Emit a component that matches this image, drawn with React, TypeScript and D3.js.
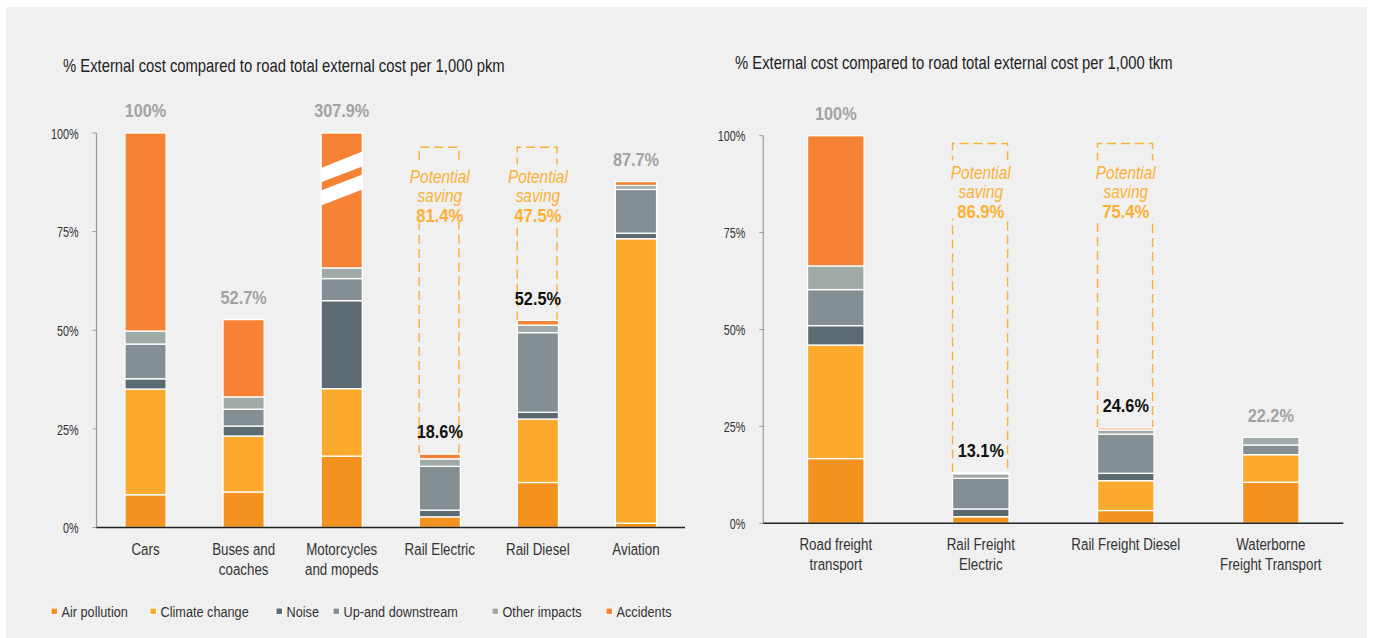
import React from 'react';
import * as d3 from 'd3';

// ---------- data ----------
const SERIES = ['Air pollution', 'Climate change', 'Noise', 'Up-and downstream', 'Other impacts', 'Accidents'];
const SERIES_COLORS = ['#f4921f', '#fbaa2d', '#5c6b71', '#848f93', '#a0aaa8', '#f58235'];

const PKM_CATEGORIES = ['Cars', 'Buses and\ncoaches', 'Motorcycles\nand mopeds', 'Rail Electric', 'Rail Diesel', 'Aviation'];
const PKM_AIR = [8.3, 9.0, 18.1, 2.7, 11.4, 1.1];
const PKM_CLIMATE = [26.8, 14.2, 17.1, 0, 16.1, 72.1];
const PKM_NOISE = [2.6, 2.5, 22.3, 1.7, 1.7, 1.4];
const PKM_UPDOWN = [8.8, 4.3, 5.6, 11.1, 20.2, 11.1];
const PKM_OTHER = [3.3, 3.1, 2.7, 1.9, 1.9, 1.0];
const PKM_ACCIDENTS = [50.2, 19.6, 242.1, 1.2, 1.2, 1.0];
const PKM_TOTALS = [100, 52.7, 307.9, 18.6, 52.5, 87.7];
const PKM_SAVING = [null, null, null, 81.4, 47.5, null];

const TKM_CATEGORIES = ['Road freight\ntransport', 'Rail Freight\nElectric', 'Rail Freight Diesel', 'Waterborne\nFreight Transport'];
const TKM_AIR = [16.7, 1.7, 3.3, 10.6];
const TKM_CLIMATE = [29.3, 0, 7.7, 7.1];
const TKM_NOISE = [5.0, 2.0, 1.9, 0];
const TKM_UPDOWN = [9.3, 7.9, 10.1, 2.5];
const TKM_OTHER = [6.1, 1.2, 1.1, 2.0];
const TKM_ACCIDENTS = [33.6, 0.3, 0.5, 0];
const TKM_TOTALS = [100, 13.1, 24.6, 22.2];
const TKM_SAVING = [null, 86.9, 75.4, null];

const Y_TICKS = [0, 25, 50, 75, 100];

const FONT = "'Liberation Sans', Arial, sans-serif";
const YELLOW = '#fbb034';
const BG = '#f0f0f0';
const NARROW = 0.82;

type NTextProps = {
  x: number; y: number; size: number; fill: string;
  anchor?: 'start' | 'middle' | 'end';
  weight?: string; italic?: boolean; sx?: number;
  lines: string[]; lineHeight?: number;
};

// Condensed text: Liberation Sans squeezed horizontally, like Arial Narrow
function NText({ x, y, size, fill, anchor = 'start', weight = 'normal', italic = false, sx = NARROW, lines, lineHeight = 20 }: NTextProps) {
  return (
    <text transform={`translate(${x},${y}) scale(${sx},1)`} textAnchor={anchor} dominantBaseline="central"
      fontSize={size} fontWeight={weight} fontStyle={italic ? 'italic' : 'normal'} fill={fill} fontFamily={FONT}>
      {lines.map((l, j) => (
        <tspan key={j} x={0} dy={j === 0 ? 0 : lineHeight}>{l}</tspan>
      ))}
    </text>
  );
}

type ChartProps = {
  title: string;
  categories: string[];
  values: number[][];
  totals: number[];
  saving: (number | null)[];
  x0: number; x1: number; yTop: number; yBottom: number;
  titleX: number; titleY: number;
  padding: number;
  boxTopValue: number;
  brokenMax?: boolean;
};

function fmt(v: number) {
  return Number.isInteger(v) ? `${v}%` : `${v.toFixed(1)}%`;
}

function Chart(p: ChartProps) {
  const x = d3.scaleBand<string>().domain(p.categories).range([p.x0, p.x1]).paddingInner(p.padding).paddingOuter(p.padding / 2);
  const y = d3.scaleLinear().domain([0, 100]).range([p.yBottom, p.yTop]).clamp(true);
  const rows = p.categories.map((c, i) => {
    const r: any = { cat: c };
    SERIES.forEach((s, k) => (r[s] = p.values[k][i]));
    return r;
  });
  const stacked = d3.stack<any>().keys(SERIES)(rows);
  const bw = x.bandwidth();

  return (
    <g>
      <NText x={p.titleX} y={p.titleY} size={18.5} sx={0.8} fill="#222" lines={[p.title]} />
      {/* y axis */}
      <line x1={p.x0} x2={p.x0} y1={y(100)} y2={y(0)} stroke="#9a9a9a" strokeWidth={1.2} />
      {Y_TICKS.map(t => (
        <g key={t}>
          <line x1={p.x0 - 4} x2={p.x0} y1={y(t)} y2={y(t)} stroke="#9a9a9a" strokeWidth={1} />
          <NText x={p.x0 - 18} y={y(t)} anchor="end" size={15} sx={0.72} fill="#333" lines={[`${t}%`]} />
        </g>
      ))}
      {/* dashed saving boxes */}
      {p.categories.map((c, i) => {
        const s = p.saving[i];
        if (s == null) return null;
        const bx = x(c)!;
        const top = y(p.boxTopValue);
        const bot = y(p.totals[i]);
        const cx = bx + bw / 2;
        return (
          <g key={'box' + i}>
            <path d={`M${bx},${bot} V${top} H${bx + bw - 1.5} V${bot}`} fill="none" stroke={YELLOW} strokeWidth={1.4} strokeDasharray="9 5" />
            <rect x={cx - 34} y={top + 17} width={68} height={58} fill={BG} />
            <NText x={cx} y={top + 29} anchor="middle" size={17.5} italic sx={0.88} fill={YELLOW} lines={['Potential']} />
            <NText x={cx} y={top + 48} anchor="middle" size={17.5} italic sx={0.88} fill={YELLOW} lines={['saving']} />
            <NText x={cx} y={top + 68} anchor="middle" size={18.5} weight="bold" sx={0.9} fill={YELLOW} lines={[fmt(s)]} />
          </g>
        );
      })}
      {/* bars */}
      {stacked.map((layer, k) => (
        <g key={SERIES[k]} fill={SERIES_COLORS[k]}>
          {layer.map((d, i) => {
            const h = y(d[0]) - y(d[1]);
            if (h <= 0.01) return null;
            return <rect key={i} x={x(p.categories[i])} y={y(d[1])} width={bw} height={h} stroke="#fff" strokeWidth={1.3} />;
          })}
        </g>
      ))}
      {/* break marks for the off-scale bar */}
      {p.brokenMax && p.categories.map((c, i) => {
        if (p.totals[i] <= 100) return null;
        const bx = x(c)!;
        const stripe = (l0: number, l1: number, r0: number, r1: number) =>
          `M${bx},${y(l0)} L${bx + bw},${y(r0)} L${bx + bw},${y(r1)} L${bx},${y(l1)} Z`;
        return (
          <g key={'brk' + i} fill="#fff">
            <path d={stripe(91.1, 87.5, 95.3, 91.5)} />
            <path d={stripe(85.4, 81.6, 89.5, 85.7)} />
          </g>
        );
      })}
      {/* total labels */}
      {p.categories.map((c, i) => {
        const cx = x(c)! + bw / 2;
        const inBox = p.saving[i] != null;
        return (
          <NText key={'lbl' + i} x={cx} y={y(Math.min(p.totals[i], 100)) - 22} anchor="middle" size={18.5} weight="bold"
            sx={0.88} fill={inBox ? '#111' : '#a3a3a3'} lines={[fmt(p.totals[i])]} />
        );
      })}
      {/* x axis */}
      <line x1={p.x0} x2={p.x1} y1={y(0)} y2={y(0)} stroke="#222" strokeWidth={1.5} />
      {p.categories.map((c, i) => {
        const cx = x(c)! + bw / 2;
        return (
          <NText key={'cat' + i} x={cx} y={y(0) + 20.5} anchor="middle" size={17} sx={0.785} fill="#333" lines={c.split('\n')} lineHeight={20} />
        );
      })}
    </g>
  );
}

const LEGEND_X = [51, 150, 276, 333, 492, 606];

export default function App() {
  return (
    <svg width={1373} height={638} style={{ position: 'absolute', left: 0, top: 0, display: 'block' }}>
      <rect x={0} y={0} width={1373} height={638} fill="#fff" />
      <rect x={6} y={7} width={1361} height={631} fill={BG} />
      <Chart
        title="% External cost compared to road total external cost per 1,000 pkm"
        categories={PKM_CATEGORIES}
        values={[PKM_AIR, PKM_CLIMATE, PKM_NOISE, PKM_UPDOWN, PKM_OTHER, PKM_ACCIDENTS]}
        totals={PKM_TOTALS}
        saving={PKM_SAVING}
        x0={96.5} x1={685} yTop={133} yBottom={527.5}
        titleX={63} titleY={65}
        padding={0.58}
        boxTopValue={96.4}
        brokenMax
      />
      <Chart
        title="% External cost compared to road total external cost per 1,000 tkm"
        categories={TKM_CATEGORIES}
        values={[TKM_AIR, TKM_CLIMATE, TKM_NOISE, TKM_UPDOWN, TKM_OTHER, TKM_ACCIDENTS]}
        totals={TKM_TOTALS}
        saving={TKM_SAVING}
        x0={763.3} x1={1343.3} yTop={135.7} yBottom={523.3}
        titleX={735} titleY={62}
        padding={0.61}
        boxTopValue={98}
      />
      {SERIES.map((s, k) => (
        <g key={s}>
          <rect x={LEGEND_X[k]} y={608} width={6.5} height={6.5} fill={SERIES_COLORS[k]} stroke="#fff" strokeWidth={1} />
          <NText x={LEGEND_X[k] + 10.5} y={611.5} size={15.5} fill="#333" lines={[s]} />
        </g>
      ))}
    </svg>
  );
}
